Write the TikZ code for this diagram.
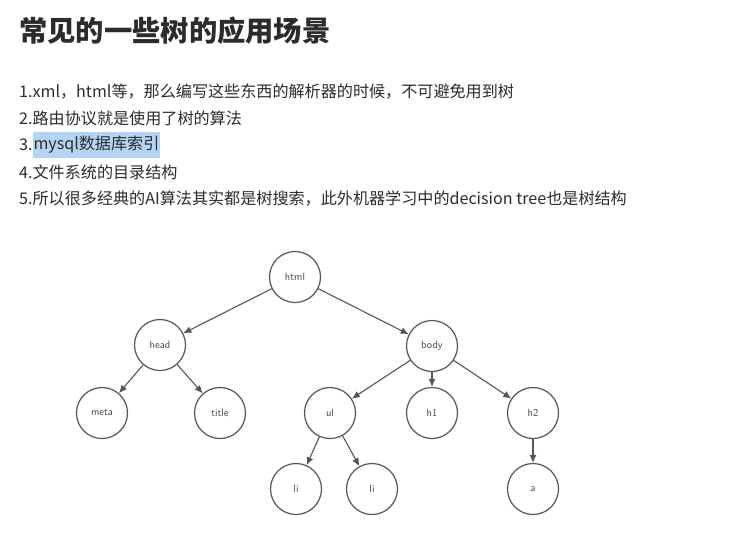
\documentclass[tikz,border=0pt]{standalone}
\usepackage{fontspec}
\newfontfamily\cjk{Noto Sans CJK SC}
\usetikzlibrary{arrows.meta,positioning}

\definecolor{linegray}{HTML}{555555}
\definecolor{labelgray}{HTML}{444444}
\definecolor{textgray}{HTML}{2B2B2B}
\definecolor{hlblue}{HTML}{B3D4F5}

\begin{document}
\begin{tikzpicture}[
		x=1pt, y=-1pt,
		heading/.style={anchor=west, inner sep=0pt, font=\cjk\bfseries\fontsize{28.3}{32}\selectfont, text=textgray},
		item/.style={anchor=west, inner sep=0pt, font=\cjk\fontsize{16.1}{18}\selectfont, text=textgray},
		vertex/.style={draw=linegray, circle, minimum size=51pt, inner sep=0pt, line width=1.2pt, font=\sffamily\fontsize{10.5}{12}\selectfont, text=labelgray},
		edge/.style={-{Latex[length=8pt,width=7pt]}, draw=linegray, line width=1.1pt}
	]
		\useasboundingbox[fill=white] (0,0) rectangle (733,547);

		% heading and list
		\node[heading] (title) at (19,31) {常见的一些树的应用场景};
		\node[item] (l1) at (19,92) {1.xml，html等，那么编写这些东西的解析器的时候，不可避免用到树};
		\node[item] (l2) at (19,118) {2.路由协议就是使用了树的算法};
		\node[item] (l3) at (19,145) {3.};
		\node[item, fill=hlblue, inner xsep=0.5pt, minimum height=26pt] (l3 hl) at (l3.east) {mysql数据库索引};
		\node[item] (l4) at (19,172) {4.文件系统的目录结构};
		\node[item] (l5) at (19,199) {5.所以很多经典的AI算法其实都是树搜索，此外机器学习中的decision tree也是树结构};

		% tree
		\begin{scope}[on grid]
		\node[vertex] (html) at (295,277) {html};
		\node[vertex, below left=68pt and 135pt of html] (head) {head};
		\node[vertex, below right=69pt and 137pt of html] (body) {body};
		\node[vertex, below left=68pt and 58pt of head] (meta) {meta};
		\node[vertex, below right=68pt and 60pt of head] (title tag) {title};
		\node[vertex, below left=67pt and 102pt of body] (ul) {ul};
		\node[vertex, below=67pt of body] (h1) {h1};
		\node[vertex, below right=67pt and 101pt of body] (h2) {h2};
		\node[vertex, below left=76pt and 34pt of ul] (li a) {li};
		\node[vertex, below right=76pt and 42pt of ul] (li b) {li};
		\node[vertex, below=76pt of h2] (a) {a};
		\end{scope}

		\draw[edge] (html) -- (head);
		\draw[edge] (html) -- (body);
		\draw[edge] (head) -- (meta);
		\draw[edge] (head) -- (title tag);
		\draw[edge] (body) -- (ul);
		\draw[edge] (body) -- (h1);
		\draw[edge] (body) -- (h2);
		\draw[edge] (ul) -- (li a);
		\draw[edge] (ul) -- (li b);
		\draw[edge] (h2) -- (a);
	\end{tikzpicture}
\end{document}
